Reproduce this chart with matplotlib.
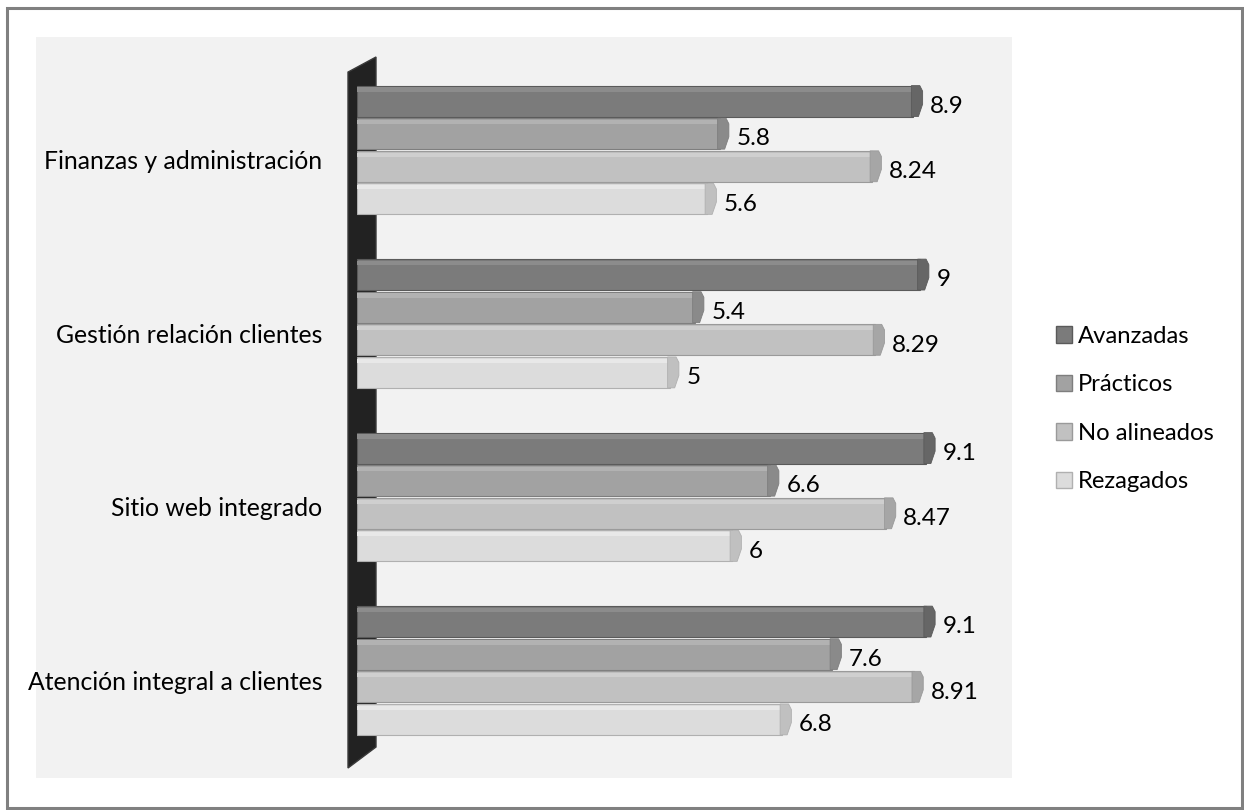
import matplotlib.pyplot as plt
from matplotlib.patches import Polygon, Rectangle, Patch
from matplotlib.transforms import ScaledTranslation

plt.rcParams['font.family'] = ['Lato', 'DejaVu Sans']

categories = ['Atención integral a clientes', 'Sitio web integrado',
              'Gestión relación clientes', 'Finanzas y administración']
series = ['Avanzadas', 'Prácticos', 'No alineados', 'Rezagados']
avanzadas = [9.1, 9.1, 9, 8.9]
practicos = [7.6, 6.6, 5.4, 5.8]
no_alineados = [8.91, 8.47, 8.29, 8.24]
rezagados = [6.8, 6, 5, 5.6]
values = [avanzadas, practicos, no_alineados, rezagados]

face = ['#7b7b7b', '#a2a2a2', '#c1c1c1', '#dcdcdc']
top_hl = ['#8c8c8c', '#b2b2b2', '#cfcfcf', '#e8e8e8']
cap_col = ['#666666', '#8a8a8a', '#a6a6a6', '#c0c0c0']
edge = ['#5a5a5a', '#7e7e7e', '#9a9a9a', '#b0b0b0']

W, H = 1244, 810
fig = plt.figure(figsize=(W / 100, H / 100), dpi=100)
fig.patch.set_facecolor('white')

# outer frame and grey plot area
fig.patches.append(Rectangle((7 / W, 1 - 808 / H), 1235 / W, 800 / H, transform=fig.transFigure,
                             facecolor='white', edgecolor='#808080', linewidth=2.2, zorder=-10))
fig.patches.append(Rectangle((36 / W, 1 - 778 / H), 976 / W, 741 / H, transform=fig.transFigure,
                             facecolor='#f2f2f2', edgecolor='none', zorder=-9))

ax = fig.add_axes([357 / W, 1 - 768 / H, 625 / W, 711 / H])
ax.set_zorder(2)
ax.set_facecolor('none')
ax.set_xlim(0, 10)
ax.set_ylim(-0.562, 3.536)
for s in ax.spines.values():
    s.set_visible(False)
ax.set_xticks([])

# dark 3D wall behind the bars
wall = Polygon([(-0.144, -0.562), (-0.144, 3.449), (0.304, 3.536), (0.304, -0.441)],
               closed=True, facecolor='#222222', edgecolor='#3a3a3a', linewidth=1,
               clip_on=False, zorder=1)
ax.add_patch(wall)

pitch = 0.188
h = 0.178
d = 0.15
offsets = [1.5 * pitch, 0.5 * pitch, -0.5 * pitch, -1.5 * pitch]

for k, vals in enumerate(values):
    ys = [i + offsets[k] for i in range(len(categories))]
    ax.barh(ys, vals, height=h, color=face[k], edgecolor=edge[k], linewidth=0.8, zorder=3)
    # lighter strip along the top face
    ax.barh([y + h / 2 - 0.022 for y in ys], vals, height=0.024, color=top_hl[k],
            linewidth=0, zorder=4)
    for y, v in zip(ys, vals):
        top, bot = y + h / 2, y - h / 2
        cap = Polygon([(v - 0.03, top), (v + 0.7 * d, top), (v + d, top - 0.18 * h),
                       (v + d, bot + 0.4 * h), (v + 0.55 * d, bot), (v - 0.03, bot)],
                      closed=True, facecolor=cap_col[k], edgecolor=edge[k], linewidth=0.6,
                      zorder=5)
        ax.add_patch(cap)
        ax.text(v + d + 0.12, y - 0.03, f'{v:g}', va='center', ha='left', fontsize=17.5,
                color='black', zorder=6)

ax.set_yticks(range(len(categories)))
ax.set_yticklabels(categories, fontsize=17.8)
ax.tick_params(axis='y', length=0, pad=25)
for lbl in ax.get_yticklabels():
    lbl.set_transform(lbl.get_transform() + ScaledTranslation(0, -0.1, fig.dpi_scale_trans))

handles = [Patch(facecolor=face[k], edgecolor=edge[k], linewidth=1) for k in range(4)]
fig.legend(handles, series, loc='center left', bbox_to_anchor=(1034 / W, 1 - 409 / H),
           frameon=False, fontsize=17.2, handlelength=0.68, handleheight=0.68,
           handletextpad=0.25, labelspacing=1.15)

fig.savefig('out.png', dpi=100)
